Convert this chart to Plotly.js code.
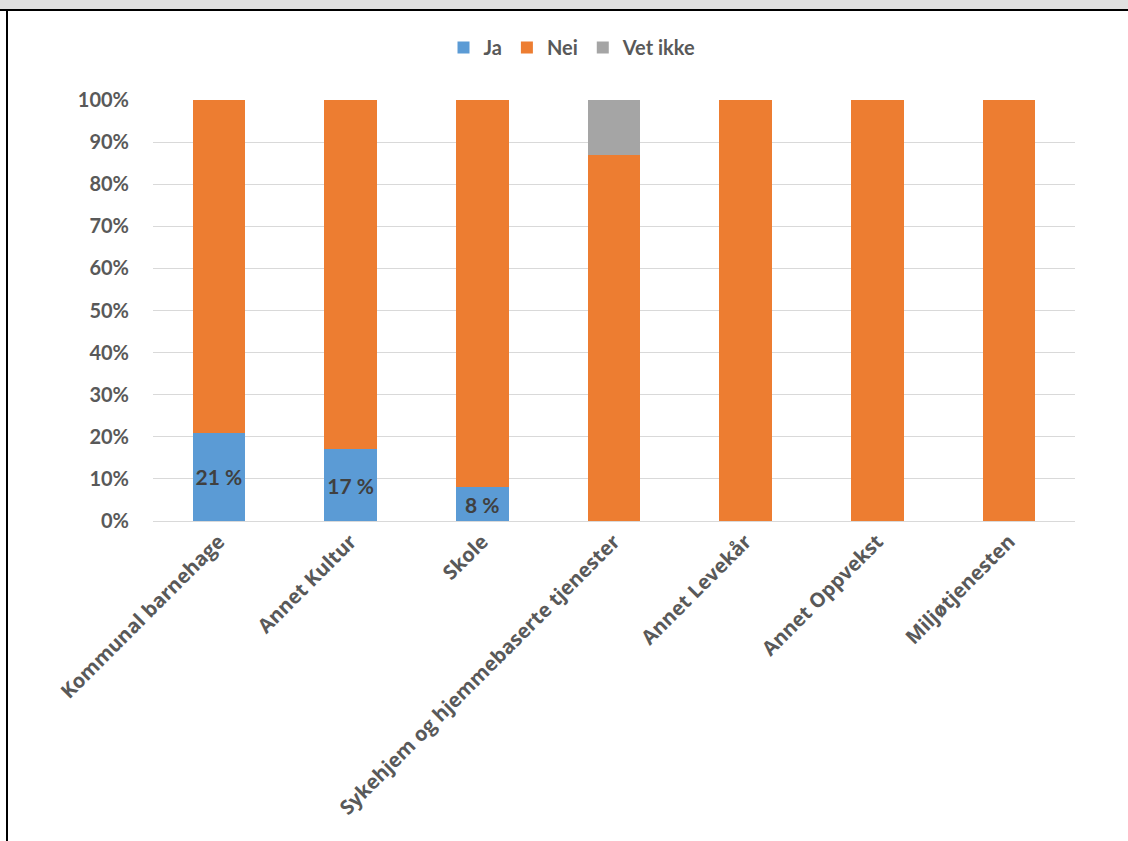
<!DOCTYPE html>
<html><head><meta charset="utf-8">
<script src="https://cdn.plot.ly/plotly-3.0.1.min.js"></script>
<style>
html,body{margin:0;padding:0;background:#fff;}
#wrap{position:relative;width:1128px;height:841px;}
#chart{width:1128px;height:841px;}
#topbar{position:absolute;left:0;top:0;width:1128px;height:9px;background:#e0e0e0;border-bottom:2px solid #000;}
#leftline{position:absolute;left:6px;top:9px;width:2px;height:832px;background:#000;}
#rightline{position:absolute;left:1108px;top:9px;width:20px;height:2px;background:#000;}
</style></head>
<body><div id="wrap"><div id="chart"></div><div id="topbar"></div><div id="leftline"></div><div id="rightline"></div></div>
<script>
var categories = ["Kommunal barnehage","Annet Kultur","Skole","Sykehjem og hjemmebaserte tjenester","Annet Levekår","Annet Oppvekst","Miljøtjenesten"];
var ja = [21, 17, 8, 0, 0, 0, 0];
var nei = [79, 83, 92, 87, 100, 100, 100];
var vetIkke = [0, 0, 0, 13, 0, 0, 0];
var jaLabels = ja.map(function(v){ return v > 0 ? v + " %" : ""; });

var lato = "Lato, 'Open Sans', sans-serif";
var traces = [
  {type:"bar", name:"Ja", x:categories, y:ja, marker:{color:"#5b9bd5"}, text:jaLabels, texttemplate:"<b>%{text}</b>", textposition:"inside", insidetextanchor:"middle", textangle:0, constraintext:"none", textfont:{family:lato, size:21, color:"#404040"}, hoverinfo:"x+y"},
  {type:"bar", name:"Nei", x:categories, y:nei, marker:{color:"#ed7d31"}, hoverinfo:"x+y"},
  {type:"bar", name:"Vet ikke", x:categories, y:vetIkke, marker:{color:"#a5a5a5"}, hoverinfo:"x+y"}
];
var layout = {
  barmode:"stack", bargap:0.6,
  width:1128, height:841,
  margin:{l:153, r:53, t:100, b:320},
  paper_bgcolor:"#fff", plot_bgcolor:"#fff",
  font:{family:lato, size:17, color:"#595959"},
  showlegend:true,
  legend:{orientation:"h", x:0.455, xanchor:"center", y:1.125, yanchor:"middle", font:{family:lato, size:20, color:"#595959", weight:"bold"}, traceorder:"normal", itemwidth:30},
  xaxis:{tickangle:-45, tickfont:{family:"'Open Sans', sans-serif", size:20, color:"#595959", weight:"bold"}, showline:true, linecolor:"#d9d9d9", ticks:"", automargin:false},
  yaxis:{range:[0,100], dtick:10, ticksuffix:"%", tickfont:{family:lato, size:20, color:"#595959", weight:"bold"}, gridcolor:"#d9d9d9", gridwidth:1, zeroline:false, showline:false, ticks:"", ticklabelstandoff:23, automargin:false}
};
Plotly.newPlot("chart", traces, layout, {displayModeBar:false, staticPlot:true});
</script></body></html>
